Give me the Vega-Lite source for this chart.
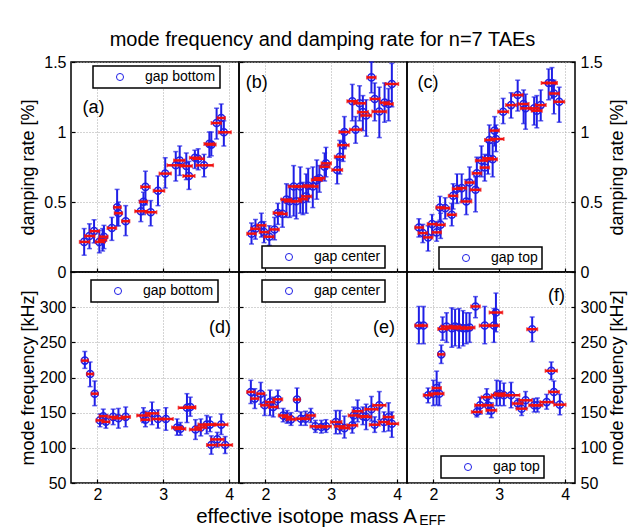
{
  "$schema": "https://vega.github.io/schema/vega-lite/v6.json",
  "padding": {"left": 18, "top": 30, "right": 5, "bottom": 0},
  "background": "white",
  "title": {"text": "mode frequency and damping rate for n=7 TAEs", "fontSize": 20, "fontWeight": "normal", "font": "Liberation Sans", "color": "black", "anchor": "middle", "offset": 3},
  "config": {
    "font": "Liberation Sans",
    "view": {"stroke": "black", "strokeWidth": 1.5},
    "axis": {"grid": true, "gridColor": "#a8a8a8", "gridDash": [1, 2], "gridWidth": 1, "domain": false, "tickColor": "black", "tickSize": -4, "tickWidth": 1.2, "labelFontSize": 16, "labelFont": "Liberation Sans", "labelColor": "black", "titleFontSize": 18, "titleFont": "Liberation Sans", "titleFontWeight": "normal", "titleColor": "black", "labelPadding": 9},
    "axisX": {"labelPadding": 7, "format": "d"},
    "legend": {"orient": "none", "title": null, "labelFontSize": 14, "labelFont": "Liberation Sans", "labelColor": "black", "strokeColor": "black", "strokeWidth": 1.5, "fillColor": "white", "padding": 4, "symbolType": "circle", "symbolSize": 50, "symbolStrokeWidth": 1, "symbolOffset": 16, "labelOffset": 18, "symbolFillColor": "transparent", "cornerRadius": 0}
  },
  "datasets": {
    "a": [
      {"x": 1.80, "y": 0.215, "xlo": 1.73, "xhi": 1.88, "ylo": 0.12, "yhi": 0.31},
      {"x": 1.88, "y": 0.257, "xlo": 1.81, "xhi": 1.96, "ylo": 0.167, "yhi": 0.344},
      {"x": 1.95, "y": 0.292, "xlo": 1.89, "xhi": 2.03, "ylo": 0.208, "yhi": 0.373},
      {"x": 2.03, "y": 0.215, "xlo": 1.97, "xhi": 2.11, "ylo": 0.137, "yhi": 0.297},
      {"x": 2.08, "y": 0.23, "xlo": 2.02, "xhi": 2.14, "ylo": 0.15, "yhi": 0.31},
      {"x": 2.10, "y": 0.252, "xlo": 2.03, "xhi": 2.16, "ylo": 0.167, "yhi": 0.333},
      {"x": 2.22, "y": 0.314, "xlo": 2.15, "xhi": 2.29, "ylo": 0.226, "yhi": 0.39},
      {"x": 2.30, "y": 0.462, "xlo": 2.25, "xhi": 2.36, "ylo": 0.33, "yhi": 0.59},
      {"x": 2.32, "y": 0.42, "xlo": 2.26, "xhi": 2.38, "ylo": 0.33, "yhi": 0.50},
      {"x": 2.43, "y": 0.363, "xlo": 2.37, "xhi": 2.49, "ylo": 0.26, "yhi": 0.474},
      {"x": 2.66, "y": 0.434, "xlo": 2.57, "xhi": 2.76, "ylo": 0.36, "yhi": 0.51},
      {"x": 2.70, "y": 0.502, "xlo": 2.64, "xhi": 2.76, "ylo": 0.41, "yhi": 0.57},
      {"x": 2.73, "y": 0.608, "xlo": 2.66, "xhi": 2.80, "ylo": 0.48, "yhi": 0.72},
      {"x": 2.81, "y": 0.427, "xlo": 2.73, "xhi": 2.90, "ylo": 0.33, "yhi": 0.51},
      {"x": 2.92, "y": 0.58, "xlo": 2.85, "xhi": 3.02, "ylo": 0.474, "yhi": 0.686},
      {"x": 3.03, "y": 0.703, "xlo": 2.94, "xhi": 3.12, "ylo": 0.60, "yhi": 0.816},
      {"x": 3.19, "y": 0.762, "xlo": 3.06, "xhi": 3.32, "ylo": 0.65, "yhi": 0.86},
      {"x": 3.25, "y": 0.797, "xlo": 3.16, "xhi": 3.33, "ylo": 0.69, "yhi": 0.90},
      {"x": 3.35, "y": 0.757, "xlo": 3.26, "xhi": 3.44, "ylo": 0.66, "yhi": 0.85},
      {"x": 3.39, "y": 0.686, "xlo": 3.30, "xhi": 3.48, "ylo": 0.59, "yhi": 0.79},
      {"x": 3.48, "y": 0.816, "xlo": 3.40, "xhi": 3.56, "ylo": 0.74, "yhi": 0.87},
      {"x": 3.53, "y": 0.809, "xlo": 3.45, "xhi": 3.62, "ylo": 0.73, "yhi": 0.88},
      {"x": 3.62, "y": 0.762, "xlo": 3.50, "xhi": 3.76, "ylo": 0.68, "yhi": 0.84},
      {"x": 3.70, "y": 0.915, "xlo": 3.62, "xhi": 3.77, "ylo": 0.82, "yhi": 1.0},
      {"x": 3.73, "y": 0.91, "xlo": 3.66, "xhi": 3.80, "ylo": 0.83, "yhi": 1.0},
      {"x": 3.81, "y": 1.064, "xlo": 3.73, "xhi": 3.88, "ylo": 0.95, "yhi": 1.17},
      {"x": 3.88, "y": 1.10, "xlo": 3.82, "xhi": 3.94, "ylo": 0.99, "yhi": 1.20},
      {"x": 3.92, "y": 0.998, "xlo": 3.84, "xhi": 4.03, "ylo": 0.90, "yhi": 1.08}
    ],
    "b": [
      {"x": 1.79, "y": 0.274, "xlo": 1.72, "xhi": 1.86, "ylo": 0.20, "yhi": 0.35},
      {"x": 1.85, "y": 0.309, "xlo": 1.78, "xhi": 1.92, "ylo": 0.235, "yhi": 0.375},
      {"x": 1.94, "y": 0.333, "xlo": 1.87, "xhi": 2.01, "ylo": 0.25, "yhi": 0.42},
      {"x": 1.98, "y": 0.285, "xlo": 1.91, "xhi": 2.05, "ylo": 0.21, "yhi": 0.36},
      {"x": 2.06, "y": 0.252, "xlo": 1.98, "xhi": 2.13, "ylo": 0.19, "yhi": 0.33},
      {"x": 2.14, "y": 0.304, "xlo": 2.07, "xhi": 2.21, "ylo": 0.23, "yhi": 0.39},
      {"x": 2.19, "y": 0.422, "xlo": 2.12, "xhi": 2.26, "ylo": 0.34, "yhi": 0.49},
      {"x": 2.26, "y": 0.415, "xlo": 2.19, "xhi": 2.33, "ylo": 0.32, "yhi": 0.52},
      {"x": 2.32, "y": 0.517, "xlo": 2.24, "xhi": 2.40, "ylo": 0.39, "yhi": 0.63},
      {"x": 2.37, "y": 0.505, "xlo": 2.29, "xhi": 2.45, "ylo": 0.39, "yhi": 0.62},
      {"x": 2.43, "y": 0.611, "xlo": 2.35, "xhi": 2.51, "ylo": 0.40, "yhi": 0.76},
      {"x": 2.47, "y": 0.505, "xlo": 2.40, "xhi": 2.55, "ylo": 0.38, "yhi": 0.61},
      {"x": 2.53, "y": 0.611, "xlo": 2.44, "xhi": 2.62, "ylo": 0.42, "yhi": 0.75},
      {"x": 2.57, "y": 0.52, "xlo": 2.50, "xhi": 2.64, "ylo": 0.41, "yhi": 0.64},
      {"x": 2.62, "y": 0.54, "xlo": 2.55, "xhi": 2.70, "ylo": 0.42, "yhi": 0.70},
      {"x": 2.65, "y": 0.616, "xlo": 2.58, "xhi": 2.73, "ylo": 0.50, "yhi": 0.74},
      {"x": 2.72, "y": 0.611, "xlo": 2.64, "xhi": 2.80, "ylo": 0.46, "yhi": 0.75},
      {"x": 2.78, "y": 0.658, "xlo": 2.70, "xhi": 2.86, "ylo": 0.52, "yhi": 0.80},
      {"x": 2.82, "y": 0.67, "xlo": 2.74, "xhi": 2.90, "ylo": 0.57, "yhi": 0.76},
      {"x": 2.90, "y": 0.752, "xlo": 2.83, "xhi": 2.98, "ylo": 0.65, "yhi": 0.85},
      {"x": 2.92, "y": 0.776, "xlo": 2.85, "xhi": 3.00, "ylo": 0.68, "yhi": 0.89},
      {"x": 3.09, "y": 0.729, "xlo": 3.01, "xhi": 3.17, "ylo": 0.63, "yhi": 0.81},
      {"x": 3.13, "y": 0.823, "xlo": 3.05, "xhi": 3.21, "ylo": 0.70, "yhi": 0.94},
      {"x": 3.18, "y": 0.906, "xlo": 3.10, "xhi": 3.27, "ylo": 0.79, "yhi": 1.01},
      {"x": 3.20, "y": 1.0, "xlo": 3.12, "xhi": 3.28, "ylo": 0.88, "yhi": 1.11},
      {"x": 3.37, "y": 1.017, "xlo": 3.28, "xhi": 3.46, "ylo": 0.92, "yhi": 1.11},
      {"x": 3.32, "y": 1.22, "xlo": 3.24, "xhi": 3.40, "ylo": 1.08, "yhi": 1.34},
      {"x": 3.43, "y": 1.205, "xlo": 3.34, "xhi": 3.52, "ylo": 1.08, "yhi": 1.33},
      {"x": 3.48, "y": 1.142, "xlo": 3.40, "xhi": 3.56, "ylo": 1.01, "yhi": 1.26},
      {"x": 3.53, "y": 1.118, "xlo": 3.45, "xhi": 3.61, "ylo": 0.97, "yhi": 1.23},
      {"x": 3.61, "y": 1.39, "xlo": 3.54, "xhi": 3.68, "ylo": 1.28, "yhi": 1.50},
      {"x": 3.66, "y": 1.236, "xlo": 3.59, "xhi": 3.74, "ylo": 1.08, "yhi": 1.35},
      {"x": 3.73, "y": 1.146, "xlo": 3.62, "xhi": 3.84, "ylo": 0.96, "yhi": 1.32},
      {"x": 3.81, "y": 1.21, "xlo": 3.74, "xhi": 3.88, "ylo": 1.07, "yhi": 1.35},
      {"x": 3.87, "y": 1.20, "xlo": 3.80, "xhi": 3.94, "ylo": 1.08, "yhi": 1.31},
      {"x": 3.92, "y": 1.343, "xlo": 3.82, "xhi": 4.02, "ylo": 1.18, "yhi": 1.49}
    ],
    "c": [
      {"x": 1.78, "y": 0.318, "xlo": 1.72, "xhi": 1.85, "ylo": 0.25, "yhi": 0.38},
      {"x": 1.84, "y": 0.278, "xlo": 1.77, "xhi": 1.91, "ylo": 0.21, "yhi": 0.34},
      {"x": 1.92, "y": 0.247, "xlo": 1.85, "xhi": 1.99, "ylo": 0.15, "yhi": 0.33},
      {"x": 1.98, "y": 0.342, "xlo": 1.91, "xhi": 2.05, "ylo": 0.26, "yhi": 0.41},
      {"x": 2.05, "y": 0.283, "xlo": 1.98, "xhi": 2.12, "ylo": 0.22, "yhi": 0.36},
      {"x": 2.11, "y": 0.337, "xlo": 2.04, "xhi": 2.18, "ylo": 0.24, "yhi": 0.42},
      {"x": 2.10, "y": 0.461, "xlo": 2.04, "xhi": 2.17, "ylo": 0.37, "yhi": 0.54},
      {"x": 2.18, "y": 0.456, "xlo": 2.11, "xhi": 2.25, "ylo": 0.38, "yhi": 0.53},
      {"x": 2.28, "y": 0.409, "xlo": 2.21, "xhi": 2.35, "ylo": 0.33, "yhi": 0.49},
      {"x": 2.30, "y": 0.544, "xlo": 2.23, "xhi": 2.37, "ylo": 0.45, "yhi": 0.63},
      {"x": 2.36, "y": 0.594, "xlo": 2.29, "xhi": 2.43, "ylo": 0.49, "yhi": 0.70},
      {"x": 2.43, "y": 0.599, "xlo": 2.36, "xhi": 2.50, "ylo": 0.50, "yhi": 0.70},
      {"x": 2.50, "y": 0.504, "xlo": 2.42, "xhi": 2.58, "ylo": 0.41, "yhi": 0.66},
      {"x": 2.55, "y": 0.639, "xlo": 2.48, "xhi": 2.62, "ylo": 0.52, "yhi": 0.75},
      {"x": 2.64, "y": 0.587, "xlo": 2.56, "xhi": 2.72, "ylo": 0.43, "yhi": 0.68},
      {"x": 2.66, "y": 0.705, "xlo": 2.59, "xhi": 2.73, "ylo": 0.60, "yhi": 0.82},
      {"x": 2.73, "y": 0.796, "xlo": 2.64, "xhi": 2.82, "ylo": 0.68, "yhi": 0.90},
      {"x": 2.78, "y": 0.746, "xlo": 2.71, "xhi": 2.85, "ylo": 0.65, "yhi": 0.84},
      {"x": 2.83, "y": 0.812, "xlo": 2.75, "xhi": 2.91, "ylo": 0.70, "yhi": 0.93},
      {"x": 2.90, "y": 0.805, "xlo": 2.82, "xhi": 2.97, "ylo": 0.68, "yhi": 0.92},
      {"x": 2.85, "y": 0.943, "xlo": 2.78, "xhi": 2.93, "ylo": 0.83, "yhi": 1.05},
      {"x": 2.93, "y": 1.01, "xlo": 2.86, "xhi": 3.00, "ylo": 0.90, "yhi": 1.11},
      {"x": 2.95, "y": 0.95, "xlo": 2.87, "xhi": 3.07, "ylo": 0.86, "yhi": 1.05},
      {"x": 3.06, "y": 1.145, "xlo": 2.98, "xhi": 3.14, "ylo": 1.06, "yhi": 1.24},
      {"x": 3.18, "y": 1.192, "xlo": 3.10, "xhi": 3.26, "ylo": 1.10, "yhi": 1.28},
      {"x": 3.28, "y": 1.264, "xlo": 3.20, "xhi": 3.36, "ylo": 1.15, "yhi": 1.37},
      {"x": 3.37, "y": 1.20, "xlo": 3.29, "xhi": 3.45, "ylo": 1.06, "yhi": 1.30},
      {"x": 3.40, "y": 1.169, "xlo": 3.32, "xhi": 3.48, "ylo": 1.02, "yhi": 1.27},
      {"x": 3.53, "y": 1.169, "xlo": 3.45, "xhi": 3.61, "ylo": 1.05, "yhi": 1.25},
      {"x": 3.57, "y": 1.152, "xlo": 3.49, "xhi": 3.65, "ylo": 1.03, "yhi": 1.26},
      {"x": 3.63, "y": 1.192, "xlo": 3.55, "xhi": 3.71, "ylo": 1.08, "yhi": 1.30},
      {"x": 3.75, "y": 1.35, "xlo": 3.64, "xhi": 3.86, "ylo": 1.23, "yhi": 1.45},
      {"x": 3.80, "y": 1.35, "xlo": 3.72, "xhi": 3.88, "ylo": 1.24, "yhi": 1.46},
      {"x": 3.83, "y": 1.275, "xlo": 3.76, "xhi": 3.91, "ylo": 1.13, "yhi": 1.37},
      {"x": 3.91, "y": 1.216, "xlo": 3.83, "xhi": 3.99, "ylo": 1.07, "yhi": 1.32}
    ],
    "d": [
      {"x": 1.81, "y": 224, "xlo": 1.76, "xhi": 1.86, "ylo": 213, "yhi": 237},
      {"x": 1.89, "y": 205, "xlo": 1.84, "xhi": 1.94, "ylo": 187, "yhi": 222},
      {"x": 1.96, "y": 177, "xlo": 1.91, "xhi": 2.01, "ylo": 160, "yhi": 195},
      {"x": 2.04, "y": 139, "xlo": 1.98, "xhi": 2.10, "ylo": 130, "yhi": 148},
      {"x": 2.09, "y": 145, "xlo": 2.03, "xhi": 2.15, "ylo": 135, "yhi": 155},
      {"x": 2.13, "y": 137, "xlo": 2.07, "xhi": 2.19, "ylo": 128, "yhi": 147},
      {"x": 2.24, "y": 144, "xlo": 2.17, "xhi": 2.31, "ylo": 133, "yhi": 155},
      {"x": 2.32, "y": 142, "xlo": 2.22, "xhi": 2.42, "ylo": 128, "yhi": 156},
      {"x": 2.43, "y": 144, "xlo": 2.36, "xhi": 2.50, "ylo": 130, "yhi": 158},
      {"x": 2.70, "y": 146, "xlo": 2.60, "xhi": 2.80, "ylo": 136, "yhi": 157},
      {"x": 2.73, "y": 140, "xlo": 2.66, "xhi": 2.80, "ylo": 130, "yhi": 152},
      {"x": 2.83, "y": 149, "xlo": 2.73, "xhi": 2.93, "ylo": 133, "yhi": 165},
      {"x": 2.92, "y": 141, "xlo": 2.83, "xhi": 3.01, "ylo": 128, "yhi": 154},
      {"x": 3.04, "y": 141, "xlo": 2.93, "xhi": 3.15, "ylo": 125, "yhi": 157},
      {"x": 3.21, "y": 129, "xlo": 3.13, "xhi": 3.29, "ylo": 118, "yhi": 141},
      {"x": 3.26, "y": 127, "xlo": 3.18, "xhi": 3.34, "ylo": 118, "yhi": 136},
      {"x": 3.36, "y": 157, "xlo": 3.23, "xhi": 3.49, "ylo": 136, "yhi": 177},
      {"x": 3.41, "y": 158, "xlo": 3.33, "xhi": 3.49, "ylo": 145, "yhi": 172},
      {"x": 3.49, "y": 126, "xlo": 3.40, "xhi": 3.58, "ylo": 112, "yhi": 140},
      {"x": 3.57, "y": 129, "xlo": 3.48, "xhi": 3.66, "ylo": 117, "yhi": 141},
      {"x": 3.66, "y": 133, "xlo": 3.53, "xhi": 3.78, "ylo": 120, "yhi": 146},
      {"x": 3.71, "y": 133, "xlo": 3.62, "xhi": 3.80, "ylo": 123, "yhi": 144},
      {"x": 3.73, "y": 104, "xlo": 3.66, "xhi": 3.81, "ylo": 91, "yhi": 117},
      {"x": 3.82, "y": 112, "xlo": 3.72, "xhi": 3.92, "ylo": 101, "yhi": 122},
      {"x": 3.88, "y": 133, "xlo": 3.78, "xhi": 3.98, "ylo": 119, "yhi": 148},
      {"x": 3.94, "y": 104, "xlo": 3.84, "xhi": 4.05, "ylo": 92, "yhi": 116}
    ],
    "e": [
      {"x": 1.78, "y": 179.5, "xlo": 1.72, "xhi": 1.84, "ylo": 163, "yhi": 196},
      {"x": 1.84, "y": 170, "xlo": 1.78, "xhi": 1.90, "ylo": 156, "yhi": 184},
      {"x": 1.93, "y": 177, "xlo": 1.87, "xhi": 1.99, "ylo": 162, "yhi": 193},
      {"x": 1.99, "y": 160.5, "xlo": 1.93, "xhi": 2.06, "ylo": 146, "yhi": 175},
      {"x": 2.07, "y": 165, "xlo": 2.00, "xhi": 2.14, "ylo": 146, "yhi": 182},
      {"x": 2.12, "y": 158, "xlo": 2.05, "xhi": 2.19, "ylo": 144, "yhi": 172},
      {"x": 2.19, "y": 169, "xlo": 2.12, "xhi": 2.26, "ylo": 156, "yhi": 182},
      {"x": 2.27, "y": 146, "xlo": 2.20, "xhi": 2.34, "ylo": 137, "yhi": 156},
      {"x": 2.33, "y": 144, "xlo": 2.26, "xhi": 2.40, "ylo": 135, "yhi": 153},
      {"x": 2.39, "y": 140.5, "xlo": 2.32, "xhi": 2.46, "ylo": 132, "yhi": 150},
      {"x": 2.48, "y": 168.6, "xlo": 2.43, "xhi": 2.53, "ylo": 152, "yhi": 185},
      {"x": 2.54, "y": 141.4, "xlo": 2.47, "xhi": 2.61, "ylo": 132, "yhi": 151},
      {"x": 2.61, "y": 141.4, "xlo": 2.54, "xhi": 2.68, "ylo": 132, "yhi": 152},
      {"x": 2.69, "y": 146, "xlo": 2.62, "xhi": 2.76, "ylo": 136, "yhi": 156},
      {"x": 2.76, "y": 130.5, "xlo": 2.68, "xhi": 2.84, "ylo": 122, "yhi": 139},
      {"x": 2.85, "y": 129.5, "xlo": 2.77, "xhi": 2.93, "ylo": 121, "yhi": 139},
      {"x": 2.92, "y": 130.5, "xlo": 2.84, "xhi": 3.00, "ylo": 122, "yhi": 140},
      {"x": 3.07, "y": 136.7, "xlo": 2.99, "xhi": 3.16, "ylo": 120, "yhi": 153},
      {"x": 3.13, "y": 130.5, "xlo": 3.05, "xhi": 3.21, "ylo": 120, "yhi": 153},
      {"x": 3.20, "y": 128, "xlo": 3.12, "xhi": 3.28, "ylo": 114, "yhi": 145},
      {"x": 3.32, "y": 132, "xlo": 3.24, "xhi": 3.40, "ylo": 121, "yhi": 144},
      {"x": 3.34, "y": 146, "xlo": 3.26, "xhi": 3.42, "ylo": 135, "yhi": 158},
      {"x": 3.40, "y": 152, "xlo": 3.32, "xhi": 3.48, "ylo": 137, "yhi": 168},
      {"x": 3.48, "y": 145, "xlo": 3.40, "xhi": 3.56, "ylo": 133, "yhi": 158},
      {"x": 3.53, "y": 144, "xlo": 3.45, "xhi": 3.61, "ylo": 126, "yhi": 162},
      {"x": 3.61, "y": 154.8, "xlo": 3.51, "xhi": 3.71, "ylo": 138, "yhi": 173},
      {"x": 3.66, "y": 132.9, "xlo": 3.58, "xhi": 3.74, "ylo": 122, "yhi": 144},
      {"x": 3.73, "y": 160.5, "xlo": 3.63, "xhi": 3.83, "ylo": 140, "yhi": 180},
      {"x": 3.80, "y": 136.7, "xlo": 3.72, "xhi": 3.88, "ylo": 123, "yhi": 151},
      {"x": 3.87, "y": 143.8, "xlo": 3.79, "xhi": 3.95, "ylo": 124, "yhi": 164},
      {"x": 3.92, "y": 134.3, "xlo": 3.84, "xhi": 4.02, "ylo": 115, "yhi": 151}
    ],
    "f": [
      {"x": 1.78, "y": 273.8, "xlo": 1.72, "xhi": 1.84, "ylo": 248, "yhi": 301},
      {"x": 1.85, "y": 273.8, "xlo": 1.79, "xhi": 1.91, "ylo": 248, "yhi": 301},
      {"x": 1.92, "y": 174.8, "xlo": 1.85, "xhi": 1.99, "ylo": 164, "yhi": 185},
      {"x": 2.00, "y": 177, "xlo": 1.93, "xhi": 2.07, "ylo": 160, "yhi": 196},
      {"x": 2.05, "y": 185, "xlo": 1.98, "xhi": 2.12, "ylo": 161, "yhi": 209},
      {"x": 2.09, "y": 177, "xlo": 2.02, "xhi": 2.16, "ylo": 160, "yhi": 193},
      {"x": 2.12, "y": 232.9, "xlo": 2.07, "xhi": 2.17, "ylo": 220, "yhi": 246},
      {"x": 2.14, "y": 269, "xlo": 2.07, "xhi": 2.21, "ylo": 253, "yhi": 286},
      {"x": 2.20, "y": 272.4, "xlo": 2.12, "xhi": 2.28, "ylo": 250, "yhi": 292},
      {"x": 2.28, "y": 270, "xlo": 2.20, "xhi": 2.36, "ylo": 243, "yhi": 299},
      {"x": 2.33, "y": 272.4, "xlo": 2.25, "xhi": 2.41, "ylo": 245, "yhi": 297},
      {"x": 2.39, "y": 271, "xlo": 2.31, "xhi": 2.47, "ylo": 242, "yhi": 298},
      {"x": 2.45, "y": 270, "xlo": 2.37, "xhi": 2.53, "ylo": 245, "yhi": 295},
      {"x": 2.50, "y": 270, "xlo": 2.42, "xhi": 2.58, "ylo": 248, "yhi": 292},
      {"x": 2.55, "y": 271, "xlo": 2.47, "xhi": 2.63, "ylo": 250, "yhi": 292},
      {"x": 2.64, "y": 301, "xlo": 2.57, "xhi": 2.71, "ylo": 285, "yhi": 315},
      {"x": 2.66, "y": 151, "xlo": 2.58, "xhi": 2.74, "ylo": 144, "yhi": 158},
      {"x": 2.71, "y": 160.5, "xlo": 2.63, "xhi": 2.79, "ylo": 148, "yhi": 172},
      {"x": 2.78, "y": 273.8, "xlo": 2.70, "xhi": 2.86, "ylo": 248, "yhi": 301},
      {"x": 2.81, "y": 172, "xlo": 2.73, "xhi": 2.89, "ylo": 160, "yhi": 184},
      {"x": 2.83, "y": 160.5, "xlo": 2.75, "xhi": 2.91, "ylo": 148, "yhi": 173},
      {"x": 2.88, "y": 153.3, "xlo": 2.80, "xhi": 2.96, "ylo": 143, "yhi": 164},
      {"x": 2.92, "y": 273.8, "xlo": 2.84, "xhi": 3.00, "ylo": 250, "yhi": 298},
      {"x": 2.95, "y": 292.4, "xlo": 2.85, "xhi": 3.05, "ylo": 265, "yhi": 320},
      {"x": 2.96, "y": 174.8, "xlo": 2.88, "xhi": 3.04, "ylo": 160, "yhi": 196},
      {"x": 3.01, "y": 177, "xlo": 2.93, "xhi": 3.09, "ylo": 160, "yhi": 195},
      {"x": 3.07, "y": 174.8, "xlo": 2.99, "xhi": 3.15, "ylo": 160, "yhi": 192},
      {"x": 3.18, "y": 174.8, "xlo": 3.05, "xhi": 3.31, "ylo": 157, "yhi": 193},
      {"x": 3.28, "y": 163, "xlo": 3.20, "xhi": 3.36, "ylo": 156, "yhi": 170},
      {"x": 3.34, "y": 155.7, "xlo": 3.26, "xhi": 3.42, "ylo": 146, "yhi": 165},
      {"x": 3.40, "y": 167.6, "xlo": 3.30, "xhi": 3.50, "ylo": 156, "yhi": 180},
      {"x": 3.50, "y": 268.6, "xlo": 3.42, "xhi": 3.58, "ylo": 251, "yhi": 286},
      {"x": 3.53, "y": 160.5, "xlo": 3.45, "xhi": 3.61, "ylo": 151, "yhi": 170},
      {"x": 3.58, "y": 160.5, "xlo": 3.50, "xhi": 3.66, "ylo": 151, "yhi": 171},
      {"x": 3.72, "y": 165, "xlo": 3.62, "xhi": 3.82, "ylo": 155, "yhi": 176},
      {"x": 3.79, "y": 209.5, "xlo": 3.70, "xhi": 3.88, "ylo": 197, "yhi": 222},
      {"x": 3.83, "y": 179.5, "xlo": 3.75, "xhi": 3.91, "ylo": 164, "yhi": 195},
      {"x": 3.92, "y": 161.4, "xlo": 3.83, "xhi": 4.01, "ylo": 147, "yhi": 176}
    ]
  },
  "columns": 3,
  "spacing": 0,
  "bounds": "flush",
  "resolve": {"scale": {"x": "independent", "y": "independent", "color": "independent"}, "axis": {"x": "independent", "y": "independent"}, "legend": {"color": "independent"}},
  "concat": [
    {
      "width": 168, "height": 210,
      "data": {"name": "a"},
      "layer": [
        {"mark": {"type": "rule", "color": "#1f1fe6", "strokeWidth": 2},
         "encoding": {"x": {"field": "x", "type": "quantitative", "scale": {"domain": [1.6, 4.15], "nice": false, "zero": false}, "axis": {"values": [2, 3, 4], "labels": false, "title": null}},
                      "y": {"field": "ylo", "type": "quantitative", "scale": {"domain": [0, 1.5], "nice": false, "zero": false}, "axis": {"values": [0, 0.5, 1, 1.5], "format": "~g", "title": "damping rate [%]", "minExtent": 30, "maxExtent": 30}},
                      "y2": {"field": "yhi"}}},
        {"mark": {"type": "tick", "orient": "horizontal", "color": "#1f1fe6", "size": 5, "thickness": 1.5}, "encoding": {"x": {"field": "x", "type": "quantitative"}, "y": {"field": "ylo", "type": "quantitative"}}},
        {"mark": {"type": "tick", "orient": "horizontal", "color": "#1f1fe6", "size": 5, "thickness": 1.5}, "encoding": {"x": {"field": "x", "type": "quantitative"}, "y": {"field": "yhi", "type": "quantitative"}}},
        {"mark": {"type": "point", "shape": "circle", "filled": false, "size": 50, "strokeWidth": 1.5, "opacity": 1},
         "encoding": {"x": {"field": "x", "type": "quantitative"}, "y": {"field": "y", "type": "quantitative"},
                      "color": {"datum": "gap bottom", "type": "nominal", "scale": {"range": ["#1f1fe6"]}, "legend": {"legendX": 22, "legendY": 4}}}},
        {"mark": {"type": "rule", "color": "#f01010", "strokeWidth": 2.5}, "encoding": {"x": {"field": "xlo", "type": "quantitative"}, "x2": {"field": "xhi"}, "y": {"field": "y", "type": "quantitative"}}},
        {"mark": {"type": "tick", "orient": "vertical", "color": "#f01010", "size": 4, "thickness": 1.5}, "encoding": {"x": {"field": "xlo", "type": "quantitative"}, "y": {"field": "y", "type": "quantitative"}}},
        {"mark": {"type": "tick", "orient": "vertical", "color": "#f01010", "size": 4, "thickness": 1.5}, "encoding": {"x": {"field": "xhi", "type": "quantitative"}, "y": {"field": "y", "type": "quantitative"}}},
        {"data": {"values": [{}]}, "mark": {"type": "text", "fontSize": 18, "font": "Liberation Sans", "color": "black"}, "encoding": {"x": {"datum": 1.94}, "y": {"datum": 1.17}, "text": {"value": "(a)"}}}
      ]
    },
    {
      "width": 168, "height": 210,
      "data": {"name": "b"},
      "layer": [
        {"mark": {"type": "rule", "color": "#1f1fe6", "strokeWidth": 2},
         "encoding": {"x": {"field": "x", "type": "quantitative", "scale": {"domain": [1.6, 4.15], "nice": false, "zero": false}, "axis": {"values": [2, 3, 4], "labels": false, "title": null}},
                      "y": {"field": "ylo", "type": "quantitative", "scale": {"domain": [0, 1.5], "nice": false, "zero": false}, "axis": {"values": [0, 0.5, 1, 1.5], "labels": false, "title": null}},
                      "y2": {"field": "yhi"}}},
        {"mark": {"type": "tick", "orient": "horizontal", "color": "#1f1fe6", "size": 5, "thickness": 1.5}, "encoding": {"x": {"field": "x", "type": "quantitative"}, "y": {"field": "ylo", "type": "quantitative"}}},
        {"mark": {"type": "tick", "orient": "horizontal", "color": "#1f1fe6", "size": 5, "thickness": 1.5}, "encoding": {"x": {"field": "x", "type": "quantitative"}, "y": {"field": "yhi", "type": "quantitative"}}},
        {"mark": {"type": "point", "shape": "circle", "filled": false, "size": 50, "strokeWidth": 1.5, "opacity": 1},
         "encoding": {"x": {"field": "x", "type": "quantitative"}, "y": {"field": "y", "type": "quantitative"},
                      "color": {"datum": "gap center", "type": "nominal", "scale": {"range": ["#1f1fe6"]}, "legend": {"legendX": 23, "legendY": 184}}}},
        {"mark": {"type": "rule", "color": "#f01010", "strokeWidth": 2.5}, "encoding": {"x": {"field": "xlo", "type": "quantitative"}, "x2": {"field": "xhi"}, "y": {"field": "y", "type": "quantitative"}}},
        {"mark": {"type": "tick", "orient": "vertical", "color": "#f01010", "size": 4, "thickness": 1.5}, "encoding": {"x": {"field": "xlo", "type": "quantitative"}, "y": {"field": "y", "type": "quantitative"}}},
        {"mark": {"type": "tick", "orient": "vertical", "color": "#f01010", "size": 4, "thickness": 1.5}, "encoding": {"x": {"field": "xhi", "type": "quantitative"}, "y": {"field": "y", "type": "quantitative"}}},
        {"data": {"values": [{}]}, "mark": {"type": "text", "fontSize": 18, "font": "Liberation Sans", "color": "black"}, "encoding": {"x": {"datum": 1.87}, "y": {"datum": 1.352}, "text": {"value": "(b)"}}}
      ]
    },
    {
      "width": 168, "height": 210,
      "data": {"name": "c"},
      "layer": [
        {"mark": {"type": "rule", "color": "#1f1fe6", "strokeWidth": 2},
         "encoding": {"x": {"field": "x", "type": "quantitative", "scale": {"domain": [1.6, 4.15], "nice": false, "zero": false}, "axis": {"values": [2, 3, 4], "labels": false, "title": null}},
                      "y": {"field": "ylo", "type": "quantitative", "scale": {"domain": [0, 1.5], "nice": false, "zero": false}, "axis": {"orient": "right", "values": [0, 0.5, 1, 1.5], "format": "~g", "title": "damping rate [%]", "titleAngle": 270, "titleBaseline": "top", "titlePadding": 3, "minExtent": 30, "maxExtent": 30}},
                      "y2": {"field": "yhi"}}},
        {"mark": {"type": "tick", "orient": "horizontal", "color": "#1f1fe6", "size": 5, "thickness": 1.5}, "encoding": {"x": {"field": "x", "type": "quantitative"}, "y": {"field": "ylo", "type": "quantitative"}}},
        {"mark": {"type": "tick", "orient": "horizontal", "color": "#1f1fe6", "size": 5, "thickness": 1.5}, "encoding": {"x": {"field": "x", "type": "quantitative"}, "y": {"field": "yhi", "type": "quantitative"}}},
        {"mark": {"type": "point", "shape": "circle", "filled": false, "size": 50, "strokeWidth": 1.5, "opacity": 1},
         "encoding": {"x": {"field": "x", "type": "quantitative"}, "y": {"field": "y", "type": "quantitative"},
                      "color": {"datum": "gap top", "type": "nominal", "scale": {"range": ["#1f1fe6"]}, "legend": {"legendX": 32, "legendY": 185}}}},
        {"mark": {"type": "rule", "color": "#f01010", "strokeWidth": 2.5}, "encoding": {"x": {"field": "xlo", "type": "quantitative"}, "x2": {"field": "xhi"}, "y": {"field": "y", "type": "quantitative"}}},
        {"mark": {"type": "tick", "orient": "vertical", "color": "#f01010", "size": 4, "thickness": 1.5}, "encoding": {"x": {"field": "xlo", "type": "quantitative"}, "y": {"field": "y", "type": "quantitative"}}},
        {"mark": {"type": "tick", "orient": "vertical", "color": "#f01010", "size": 4, "thickness": 1.5}, "encoding": {"x": {"field": "xhi", "type": "quantitative"}, "y": {"field": "y", "type": "quantitative"}}},
        {"data": {"values": [{}]}, "mark": {"type": "text", "fontSize": 18, "font": "Liberation Sans", "color": "black"}, "encoding": {"x": {"datum": 1.92}, "y": {"datum": 1.352}, "text": {"value": "(c)"}}}
      ]
    },
    {
      "width": 168, "height": 211,
      "data": {"name": "d"},
      "layer": [
        {"mark": {"type": "rule", "color": "#1f1fe6", "strokeWidth": 2},
         "encoding": {"x": {"field": "x", "type": "quantitative", "scale": {"domain": [1.6, 4.15], "nice": false, "zero": false}, "axis": {"values": [2, 3, 4], "title": null}},
                      "y": {"field": "ylo", "type": "quantitative", "scale": {"domain": [50, 350], "nice": false, "zero": false}, "axis": {"values": [50, 100, 150, 200, 250, 300], "format": "d", "title": "mode frequency [kHz]", "minExtent": 30, "maxExtent": 30}},
                      "y2": {"field": "yhi"}}},
        {"mark": {"type": "tick", "orient": "horizontal", "color": "#1f1fe6", "size": 5, "thickness": 1.5}, "encoding": {"x": {"field": "x", "type": "quantitative"}, "y": {"field": "ylo", "type": "quantitative"}}},
        {"mark": {"type": "tick", "orient": "horizontal", "color": "#1f1fe6", "size": 5, "thickness": 1.5}, "encoding": {"x": {"field": "x", "type": "quantitative"}, "y": {"field": "yhi", "type": "quantitative"}}},
        {"mark": {"type": "point", "shape": "circle", "filled": false, "size": 50, "strokeWidth": 1.5, "opacity": 1},
         "encoding": {"x": {"field": "x", "type": "quantitative"}, "y": {"field": "y", "type": "quantitative"},
                      "color": {"datum": "gap bottom", "type": "nominal", "scale": {"range": ["#1f1fe6"]}, "legend": {"legendX": 20, "legendY": 8}}}},
        {"mark": {"type": "rule", "color": "#f01010", "strokeWidth": 2.5}, "encoding": {"x": {"field": "xlo", "type": "quantitative"}, "x2": {"field": "xhi"}, "y": {"field": "y", "type": "quantitative"}}},
        {"mark": {"type": "tick", "orient": "vertical", "color": "#f01010", "size": 4, "thickness": 1.5}, "encoding": {"x": {"field": "xlo", "type": "quantitative"}, "y": {"field": "y", "type": "quantitative"}}},
        {"mark": {"type": "tick", "orient": "vertical", "color": "#f01010", "size": 4, "thickness": 1.5}, "encoding": {"x": {"field": "xhi", "type": "quantitative"}, "y": {"field": "y", "type": "quantitative"}}},
        {"data": {"values": [{}]}, "mark": {"type": "text", "fontSize": 18, "font": "Liberation Sans", "color": "black"}, "encoding": {"x": {"datum": 3.86}, "y": {"datum": 270}, "text": {"value": "(d)"}}}
      ]
    },
    {
      "width": 168, "height": 211,
      "data": {"name": "e"},
      "layer": [
        {"mark": {"type": "rule", "color": "#1f1fe6", "strokeWidth": 2},
         "encoding": {"x": {"field": "x", "type": "quantitative", "scale": {"domain": [1.6, 4.15], "nice": false, "zero": false}, "axis": {"values": [2, 3, 4], "title": "effective isotope mass A", "titleFontSize": 20.5, "titleX": 67}},
                      "y": {"field": "ylo", "type": "quantitative", "scale": {"domain": [50, 350], "nice": false, "zero": false}, "axis": {"values": [50, 100, 150, 200, 250, 300], "labels": false, "title": null}},
                      "y2": {"field": "yhi"}}},
        {"mark": {"type": "tick", "orient": "horizontal", "color": "#1f1fe6", "size": 5, "thickness": 1.5}, "encoding": {"x": {"field": "x", "type": "quantitative"}, "y": {"field": "ylo", "type": "quantitative"}}},
        {"mark": {"type": "tick", "orient": "horizontal", "color": "#1f1fe6", "size": 5, "thickness": 1.5}, "encoding": {"x": {"field": "x", "type": "quantitative"}, "y": {"field": "yhi", "type": "quantitative"}}},
        {"mark": {"type": "point", "shape": "circle", "filled": false, "size": 50, "strokeWidth": 1.5, "opacity": 1},
         "encoding": {"x": {"field": "x", "type": "quantitative"}, "y": {"field": "y", "type": "quantitative"},
                      "color": {"datum": "gap center", "type": "nominal", "scale": {"range": ["#1f1fe6"]}, "legend": {"legendX": 23, "legendY": 8}}}},
        {"mark": {"type": "rule", "color": "#f01010", "strokeWidth": 2.5}, "encoding": {"x": {"field": "xlo", "type": "quantitative"}, "x2": {"field": "xhi"}, "y": {"field": "y", "type": "quantitative"}}},
        {"mark": {"type": "tick", "orient": "vertical", "color": "#f01010", "size": 4, "thickness": 1.5}, "encoding": {"x": {"field": "xlo", "type": "quantitative"}, "y": {"field": "y", "type": "quantitative"}}},
        {"mark": {"type": "tick", "orient": "vertical", "color": "#f01010", "size": 4, "thickness": 1.5}, "encoding": {"x": {"field": "xhi", "type": "quantitative"}, "y": {"field": "y", "type": "quantitative"}}},
        {"data": {"values": [{}]}, "mark": {"type": "text", "fontSize": 18, "font": "Liberation Sans", "color": "black"}, "encoding": {"x": {"datum": 3.80}, "y": {"datum": 270}, "text": {"value": "(e)"}}},
        {"data": {"values": [{}]}, "mark": {"type": "text", "fontSize": 14, "font": "Liberation Sans", "color": "black", "align": "center", "baseline": "top"}, "encoding": {"x": {"datum": 4.536}, "y": {"datum": 6}, "text": {"value": "EFF"}}}
      ]
    },
    {
      "width": 168, "height": 211,
      "data": {"name": "f"},
      "layer": [
        {"mark": {"type": "rule", "color": "#1f1fe6", "strokeWidth": 2},
         "encoding": {"x": {"field": "x", "type": "quantitative", "scale": {"domain": [1.6, 4.15], "nice": false, "zero": false}, "axis": {"values": [2, 3, 4], "title": null}},
                      "y": {"field": "ylo", "type": "quantitative", "scale": {"domain": [50, 350], "nice": false, "zero": false}, "axis": {"orient": "right", "values": [50, 100, 150, 200, 250, 300], "format": "d", "title": "mode frequency [kHz]", "titleAngle": 270, "titleBaseline": "top", "titlePadding": 3, "minExtent": 30, "maxExtent": 30}},
                      "y2": {"field": "yhi"}}},
        {"mark": {"type": "tick", "orient": "horizontal", "color": "#1f1fe6", "size": 5, "thickness": 1.5}, "encoding": {"x": {"field": "x", "type": "quantitative"}, "y": {"field": "ylo", "type": "quantitative"}}},
        {"mark": {"type": "tick", "orient": "horizontal", "color": "#1f1fe6", "size": 5, "thickness": 1.5}, "encoding": {"x": {"field": "x", "type": "quantitative"}, "y": {"field": "yhi", "type": "quantitative"}}},
        {"mark": {"type": "point", "shape": "circle", "filled": false, "size": 50, "strokeWidth": 1.5, "opacity": 1},
         "encoding": {"x": {"field": "x", "type": "quantitative"}, "y": {"field": "y", "type": "quantitative"},
                      "color": {"datum": "gap top", "type": "nominal", "scale": {"range": ["#1f1fe6"]}, "legend": {"legendX": 34, "legendY": 184}}}},
        {"mark": {"type": "rule", "color": "#f01010", "strokeWidth": 2.5}, "encoding": {"x": {"field": "xlo", "type": "quantitative"}, "x2": {"field": "xhi"}, "y": {"field": "y", "type": "quantitative"}}},
        {"mark": {"type": "tick", "orient": "vertical", "color": "#f01010", "size": 4, "thickness": 1.5}, "encoding": {"x": {"field": "xlo", "type": "quantitative"}, "y": {"field": "y", "type": "quantitative"}}},
        {"mark": {"type": "tick", "orient": "vertical", "color": "#f01010", "size": 4, "thickness": 1.5}, "encoding": {"x": {"field": "xhi", "type": "quantitative"}, "y": {"field": "y", "type": "quantitative"}}},
        {"data": {"values": [{}]}, "mark": {"type": "text", "fontSize": 18, "font": "Liberation Sans", "color": "black"}, "encoding": {"x": {"datum": 3.87}, "y": {"datum": 316}, "text": {"value": "(f)"}}}
      ]
    }
  ]
}
